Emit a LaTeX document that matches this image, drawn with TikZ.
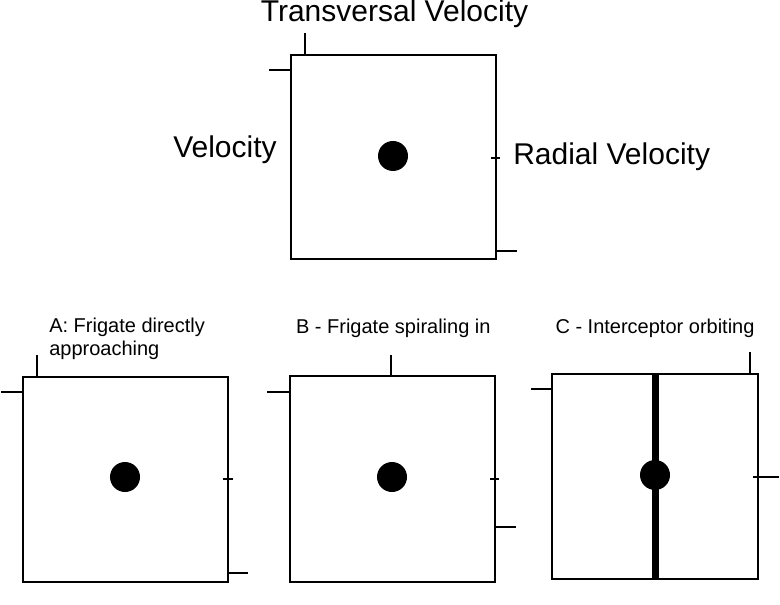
\documentclass[tikz,border=0pt]{standalone}
\usepackage{fontspec}
\setmainfont{Liberation Sans}
\usetikzlibrary{calc}

\tikzset{
  panel/.style={draw, line width=1pt},
  hand/.style={line width=1.5pt},
  nick/.style={line width=0.8pt},
  blob/.style={circle, fill=black, inner sep=0pt, minimum size=22.5pt},
  biglabel/.style={inner sep=0pt, font=\fontsize{22.5}{27}\selectfont},
  smalllabel/.style={inner sep=0pt, font=\fontsize{15}{17.25}\selectfont}
}

\begin{document}
\begin{tikzpicture}[x=0.75pt,y=-0.75pt]
\useasboundingbox (0,0) rectangle (780,605);

% top panel
\begin{scope}[shift={(291,55)}]
  \draw[panel] (0,0) rectangle (205,204);
  \draw[hand] (14,0) -- (14,-22);
  \draw[hand] (0,15) -- (-22,15);
  \draw[nick] (200,103) -- (209,103);
  \draw[hand] (205,196) -- (226,196);
  \node[blob] (ship) at (102,101) {};
\end{scope}

\node[biglabel, anchor=base] (transversal) at (394.5,21.7) {Transversal Velocity};
\node[biglabel, anchor=base west] (velocity) at (173,157.7) {Velocity};
\node[biglabel, anchor=base west] (radial) at (513,165) {Radial Velocity};

% A
\begin{scope}[shift={(23,377)}]
  \draw[panel] (0,0) rectangle (205,205);
  \draw[hand] (14,0) -- (14,-22);
  \draw[hand] (0,15) -- (-22,15);
  \draw[nick] (200,102) -- (210,102);
  \draw[hand] (205,196) -- (225,196);
  \node[blob] (shipA) at (102,100) {};
\end{scope}
\node[smalllabel, anchor=base west, align=left] (labelA) at (49,355.7) {A: Frigate directly\\approaching};

% B
\begin{scope}[shift={(290,376)}]
  \draw[panel] (0,0) rectangle (205,206);
  \draw[hand] (101,0) -- (101,-21);
  \draw[hand] (0,16) -- (-23,16);
  \draw[nick] (200,103) -- (209,103);
  \draw[hand] (205,151) -- (226,151);
  \node[blob] (shipB) at (102,101) {};
\end{scope}
\node[smalllabel, anchor=base] (labelB) at (393.3,333.3) {B - Frigate spiraling in};

% C
\begin{scope}[shift={(552,374)}]
  \draw[panel] (0,0) rectangle (206,205);
  \draw[line width=5.25pt] (103,0) -- (103,205);
  \draw[hand] (198,0) -- (198,-22);
  \draw[hand] (0,15) -- (-21,15);
  \draw[hand] (201,103) -- (227,103);
  \node[blob] (shipC) at (103,101) {};
\end{scope}
\node[smalllabel, anchor=base] (labelC) at (655,334) {C - Interceptor orbiting};

\end{tikzpicture}
\end{document}
